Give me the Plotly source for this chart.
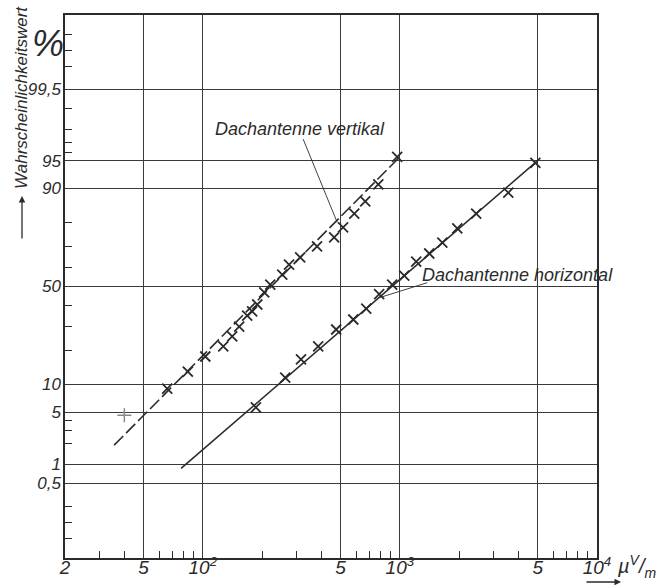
import math
from statistics import NormalDist
import plotly.graph_objects as go

# ---------------- data ----------------
# x: field strength in µV/m, p: probability value in %
vert_x = [66, 84, 103, 127, 141, 153, 168, 178, 189, 205, 220, 253, 274, 312,
          380, 464, 515, 587, 667, 777, 969]
vert_p = [9.1, 13.3, 18, 21.7, 25.7, 30, 35.2, 37.2, 40.7, 46.9, 51, 56.2, 61.3,
          64.8, 70, 74, 78, 83, 86.7, 90.9, 95.5]
vert_extra_x = [40]
vert_extra_p = [4.6]

horiz_x = [186, 262, 315, 385, 475, 580, 675, 785, 914, 1052, 1210, 1409, 1642,
           1955, 2438, 3548, 4866]
horiz_p = [5.7, 11.7, 17, 21.7, 28.7, 33.3, 38.6, 46, 51, 55.7, 62.8, 66.7, 71.7,
           77.6, 83, 89, 94.7]

vert_fit_x = [35.5, 1000]
vert_fit_p = [1.9, 95.5]
horiz_fit_x = [77.6, 4900]
horiz_fit_p = [0.87, 94.8]

# leader lines of the labels
vert_lead_x = [323, 481]
vert_lead_p = [97.3, 79.9]
horiz_lead_x = [1377, 794]
horiz_lead_p = [52, 44.3]

x_tick_vals = [20, 50, 100, 500, 1000, 5000, 10000]
x_tick_text = ["2", "5", "10<sup>2</sup>", "5", "10<sup>3</sup>", "5", "10<sup>4</sup>"]
x_minor_vals = [30, 40, 60, 70, 80, 90, 200, 300, 400, 600, 700, 800, 900,
                2000, 3000, 4000, 6000, 7000, 8000, 9000]

y_tick_vals = [0.5, 1, 5, 10, 50, 90, 95, 99.5]
y_tick_text = ["0,5", "1", "5", "10", "50", "90", "95", "99,5"]
y_minor_vals = [0.05, 0.1, 0.2, 2, 3, 4, 20, 30, 40, 60, 70, 80, 96, 97, 98, 99,
                99.8, 99.9, 99.95]

# ---------------- probability scale ----------------
nd = NormalDist()


def zq(values):
    return [nd.inv_cdf(v / 100.0) for v in values]


INK = "#2b2b2b"
FONT = "Liberation Sans, Arial, sans-serif"

fig = go.Figure()

fig.add_trace(go.Scatter(x=vert_fit_x, y=zq(vert_fit_p), mode="lines",
                         line=dict(color=INK, width=1.6, dash="13px,4px"),
                         hoverinfo="skip", showlegend=False))
fig.add_trace(go.Scatter(x=horiz_fit_x, y=zq(horiz_fit_p), mode="lines",
                         line=dict(color=INK, width=1.6),
                         hoverinfo="skip", showlegend=False))
fig.add_trace(go.Scatter(x=vert_lead_x, y=zq(vert_lead_p), mode="lines",
                         line=dict(color=INK, width=0.9),
                         hoverinfo="skip", showlegend=False))
fig.add_trace(go.Scatter(x=horiz_lead_x, y=zq(horiz_lead_p), mode="lines",
                         line=dict(color=INK, width=0.9),
                         hoverinfo="skip", showlegend=False))

marker_style = dict(symbol="x-thin-open", size=10, color=INK,
                    line=dict(color=INK, width=1.8))
fig.add_trace(go.Scatter(x=vert_x, y=zq(vert_p), mode="markers",
                         marker=marker_style, name="Dachantenne vertikal",
                         showlegend=False))
fig.add_trace(go.Scatter(x=horiz_x, y=zq(horiz_p), mode="markers",
                         marker=marker_style, name="Dachantenne horizontal",
                         showlegend=False))
fig.add_trace(go.Scatter(x=vert_extra_x, y=zq(vert_extra_p), mode="markers",
                         marker=dict(symbol="cross-thin-open", size=10, color="#888",
                                     line=dict(color="#888", width=1.5)),
                         showlegend=False))

fig.update_layout(
    width=671, height=588,
    margin=dict(l=65, r=74, t=15, b=30, autoexpand=False),
    paper_bgcolor="white", plot_bgcolor="white",
    font=dict(family=FONT, color=INK),
    xaxis=dict(
        type="log", range=[math.log10(20), math.log10(10000)],
        tickmode="array", tickvals=x_tick_vals, ticktext=x_tick_text,
        ticks="", showgrid=True, gridcolor="#3a3a3a", gridwidth=1.1,
        showline=True, mirror=True, linecolor=INK, linewidth=1.5,
        zeroline=False, automargin=False, ticklabelstandoff=-9,
        tickfont=dict(size=19, style="italic", color=INK),
        minor=dict(tickmode="array", tickvals=x_minor_vals, ticks="inside",
                   ticklen=7, tickwidth=1, tickcolor=INK, showgrid=False),
    ),
    yaxis=dict(
        range=[-3.55, 3.55],
        tickmode="array", tickvals=zq(y_tick_vals), ticktext=y_tick_text,
        ticks="", showgrid=True, gridcolor="#3a3a3a", gridwidth=1.1,
        showline=True, mirror=True, linecolor=INK, linewidth=1.5,
        zeroline=False, ticklabelstandoff=-1, automargin=False,
        tickfont=dict(size=17, style="italic", color=INK),
        minor=dict(tickmode="array", tickvals=zq(y_minor_vals), ticks="inside",
                   ticklen=7, tickwidth=1, tickcolor=INK, showgrid=False),
    ),
)

# plot area in pixels, for placing the free-standing texts
L, T, W, H = 65, 15, 532, 543


def px2paper(px, py):
    return (px - L) / W, 1 - (py - T) / H


annotations = [
    dict(text="Dachantenne vertikal", x=math.log10(312), y=nd.inv_cdf(0.98),
         xref="x", yref="y", showarrow=False,
         font=dict(size=18, style="italic", color=INK)),
    dict(text="Dachantenne horizontal", x=math.log10(1268), y=nd.inv_cdf(0.562),
         xref="x", yref="y", showarrow=False, xanchor="left",
         font=dict(size=18, style="italic", color=INK)),
]

fx, fy = px2paper(22, 98)
annotations.append(dict(text="Wahrscheinlichkeitswert", x=fx, y=fy,
                        xref="paper", yref="paper", showarrow=False, textangle=-90,
                        xanchor="center", yanchor="middle",
                        font=dict(size=17, style="italic", color=INK)))
fx, fy = px2paper(48, 44)
annotations.append(dict(text="%", x=fx, y=fy, xref="paper", yref="paper",
                        showarrow=False, xanchor="center", yanchor="middle",
                        font=dict(size=36, style="italic", color=INK)))
fx, fy = px2paper(615, 566)
annotations.append(dict(text="µ<sup>V</sup>/<sub>m</sub>", x=fx, y=fy,
                        xref="paper", yref="paper", showarrow=False,
                        xanchor="left", yanchor="middle",
                        font=dict(size=20, style="italic", color=INK)))

# arrows: y-title arrow (pointing up) and x-unit arrow (pointing right)
fx, fy = px2paper(22, 196)
annotations.append(dict(x=fx, y=fy, xref="paper", yref="paper", ax=0, ay=44,
                        text="", showarrow=True, arrowhead=2, arrowsize=1,
                        arrowwidth=1.3, arrowcolor=INK))
fx, fy = px2paper(621, 582)
annotations.append(dict(x=fx, y=fy, xref="paper", yref="paper", ax=-36, ay=0,
                        text="", showarrow=True, arrowhead=2, arrowsize=1,
                        arrowwidth=1.3, arrowcolor=INK))

fig.update_layout(annotations=annotations)

fig.write_html("out.html",
               config={"displayModeBar": False},
               post_script="document.body.style.margin='0';"
                           "document.body.style.overflow='hidden';")
